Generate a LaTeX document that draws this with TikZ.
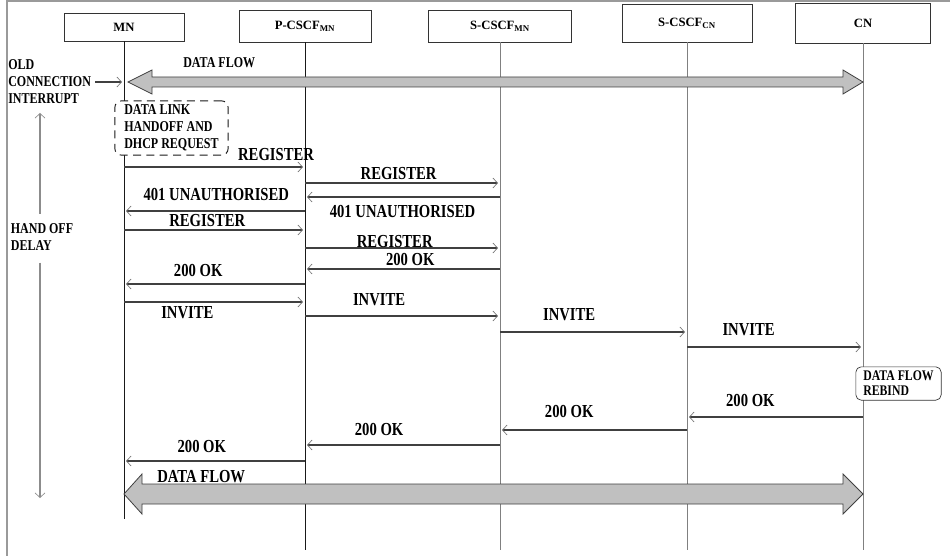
\documentclass[tikz,border=0pt]{standalone}
\usepackage{fontspec}
\setmainfont{Liberation Serif}
\newfontfamily\tallserif[FakeStretch=0.8]{Liberation Serif}
\usepackage{tikz}
\usetikzlibrary{arrows.meta,positioning,calc}
\definecolor{flowgray}{HTML}{C0C0C0}
\definecolor{framegray}{HTML}{9A9A9A}
\tikzset{
  actor/.style={draw=black!80,line width=.6pt,fill=white,font=\fontsize{9.5}{11}\selectfont\bfseries,inner sep=2pt},
  lifeline/.style={draw=black!50,line width=.6pt},
  mainline/.style={draw=black!90,line width=.6pt},
  msg/.style={-{Straight Barb[length=3.5pt,width=7.5pt,line width=.5pt,color=black!55]},draw=black!75,line width=.8pt,shorten >=1.5pt},
  msglabel/.style={font=\tallserif\fontsize{13.75}{15}\selectfont\bfseries,inner sep=0pt},
  note/.style={font=\tallserif\fontsize{11.25}{12.75}\selectfont\bfseries,align=left,inner sep=0pt},
  dashbox/.style={draw=black!90,line width=.7pt,dash pattern=on 6pt off 4pt,rounded corners=5pt,fill=white,minimum width=85pt,minimum height=37.5pt,align=left,font=\tallserif\fontsize{11.25}{12.75}\selectfont\bfseries,inner sep=3pt},
  rebindbox/.style={draw=black!80,line width=.5pt,rounded corners=4pt,fill=white,minimum width=64pt,minimum height=25pt,align=left,font=\tallserif\fontsize{11}{11.25}\selectfont\bfseries,inner sep=2pt},
  fatflow/.style={draw=black!75,fill=flowgray,line width=.6pt,line join=miter},
  delay/.style={-{Straight Barb[length=3.5pt,width=7.5pt,line width=.5pt]},draw=black!45,line width=.8pt},
  frame/.style={draw=framegray,line width=1.1pt},
}

\begin{document}
\begin{tikzpicture}[x=.75pt,y=-.75pt]
	\useasboundingbox (0,0) rectangle (950,556);
	\draw[frame] (7,556) -- (7,1) -- (950,1);

	\node[actor,minimum width=90pt,minimum height=21pt] (mn) at (124,27) {MN};
	\node[actor,minimum width=99pt,minimum height=24pt] (pcscf) at (305,26) {P-CSCF\textsubscript{MN}};
	\node[actor,minimum width=107pt,minimum height=24pt] (scscfmn) at (500,26) {S-CSCF\textsubscript{MN}};
	\node[actor,minimum width=97.5pt,minimum height=28.5pt] (scscfcn) at (687,23) {S-CSCF\textsubscript{CN}};
	\node[actor,minimum width=101pt,minimum height=30pt] (cn) at (863,23) {CN};

	\coordinate (mnend) at (124,519);
	\coordinate (lowend) at (0,550);
	\draw[mainline] (mn.south) -- (mnend);
	\draw[mainline] (pcscf.south) -- (pcscf.south |- lowend);
	\foreach \n in {scscfmn,scscfcn,cn}
		\draw[lifeline] (\n.south) -- (\n.south |- lowend);

	\foreach \r/\y in {top/82,m1/167,m2/183,m3/197,m4/211,m5/230,m6/248,m7/269,m8/284,m9/302,m10/316,m11/332,m12/347,m13/417,m14/430,m15/445,m16/461,bot/494}
		\coordinate (r\r) at (0,\y);

	\coordinate (dfl) at ($(mn |- rtop)+(4,0)$);
	\coordinate (dfr) at (cn |- rtop);
	\node[note,anchor=west] (dftop) at (183,63) {DATA FLOW};
	\draw[fatflow] (dfl) -- ++(24,-12) -- ++(0,7) -- ($(dfr)+(-20,-5)$) -- ++(0,-7) -- (dfr)
		-- ++(-20,12) -- ++(0,-7) -- ($(dfl)+(24,5)$) -- ++(0,7) -- cycle;

	\node[note,anchor=west] (oldconn) at (8,82) {OLD\\CONNECTION\\INTERRUPT};
	\draw[msg,shorten <=3pt] (oldconn) -- (mn |- oldconn);

	\node[note] (hod) at (42,237) {HAND OFF\\DELAY};
	\coordinate (hodtop) at (40,113);
	\coordinate (hodbot) at (40,498);
	\draw[delay,shorten <=7pt] (hod.north -| hodtop) -- (hodtop);
	\draw[delay,shorten <=9pt] (hod.south -| hodbot) -- (hodbot);

	\node[dashbox] (dlink) at (171.5,128) {DATA LINK\\HANDOFF AND\\DHCP REQUEST};

	\draw[msg] (mn |- rm1) -- node[msglabel,above=4.4pt,pos=.84] {REGISTER} (pcscf |- rm1);
	\draw[msg] (pcscf |- rm2) -- node[msglabel,above=2.1pt,pos=.48] {REGISTER} (scscfmn |- rm2);
	\draw[msg] (scscfmn |- rm3) -- node[msglabel,below=5.9pt,pos=.5] {401 UNAUTHORISED} (pcscf |- rm3);
	\draw[msg] (pcscf |- rm4) -- node[msglabel,above=7.4pt,pos=.49] {401 UNAUTHORISED} (mn |- rm4);
	\draw[msg] (mn |- rm5) -- node[msglabel,above=2.1pt,pos=.46] {REGISTER} (pcscf |- rm5);
	\draw[msg] (pcscf |- rm6) -- node[msglabel,above=0pt,pos=.46] {REGISTER} (scscfmn |- rm6);
	\draw[msg] (scscfmn |- rm7) -- node[msglabel,above=2pt,pos=.46] {200 OK} (pcscf |- rm7);
	\draw[msg] (pcscf |- rm8) -- node[msglabel,above=5.1pt,pos=.59] {200 OK} (mn |- rm8);
	\draw[msg] (mn |- rm9) -- node[msglabel,below=2.9pt,pos=.35] {INVITE} (pcscf |- rm9);
	\draw[msg] (pcscf |- rm10) -- node[msglabel,above=7.4pt,pos=.38] {INVITE} (scscfmn |- rm10);
	\draw[msg] (scscfmn |- rm11) -- node[msglabel,above=8.1pt,pos=.37] {INVITE} (scscfcn |- rm11);
	\draw[msg] (scscfcn |- rm12) -- node[msglabel,above=8.1pt,pos=.35] {INVITE} (cn |- rm12);

	\node[rebindbox] (rebind) at (898.5,383.5) {DATA FLOW\\REBIND};

	\draw[msg] (cn |- rm13) -- node[msglabel,above=7.4pt,pos=.64] {200 OK} (scscfcn |- rm13);
	\draw[msg] (scscfcn |- rm14) -- node[msglabel,above=8.9pt,pos=.63] {200 OK} (scscfmn |- rm14);
	\draw[msg] (scscfmn |- rm15) -- node[msglabel,above=6.6pt,pos=.62] {200 OK} (pcscf |- rm15);
	\draw[msg] (pcscf |- rm16) -- node[msglabel,above=5.9pt,pos=.57] {200 OK} (mn |- rm16);

	\coordinate (dbl) at (mn |- rbot);
	\coordinate (dbr) at (cn |- rbot);
	\draw[fatflow] (dbl) -- ++(18,-20) -- ++(0,10) -- ($(dbr)+(-20,-10)$) -- ++(0,-10) -- (dbr)
		-- ++(-20,20) -- ++(0,-10) -- ($(dbl)+(18,10)$) -- ++(0,10) -- cycle;
	\node[msglabel,anchor=west] (dfbot) at (157,477) {DATA FLOW};
\end{tikzpicture}
\end{document}
